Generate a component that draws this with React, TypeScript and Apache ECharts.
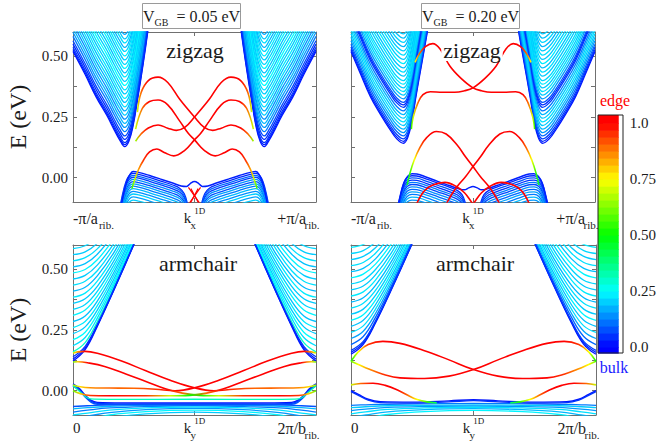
import React, { useEffect, useRef } from "react";
import * as echarts from "echarts";

const FONT = "Liberation Serif, Times New Roman, serif";
const FRAME = "#707070";
const INK = "#1b1b1b";

// ================= Top-left : zigzag, V_GB = 0.05 eV =================
const TL_COND_SHAPE = [[-1.0, 0.52], [-0.9, 0.425], [-0.81, 0.333], [-0.72, 0.255], [-0.66, 0.196], [-0.615, 0.155], [-0.575, 0.128], [-0.54, 0.15], [-0.505, 0.215], [-0.465, 0.333], [-0.425, 0.46], [-0.383, 0.607], [-0.36, 0.7]];
const TL_COND_LEVELS = [0.128, 0.136, 0.145, 0.158, 0.172, 0.19, 0.207, 0.224, 0.241, 0.258, 0.275, 0.292, 0.31, 0.327, 0.345, 0.362, 0.38, 0.397, 0.415, 0.432, 0.45, 0.467, 0.485, 0.502, 0.52, 0.537, 0.555, 0.572, 0.59];
const TL_COND_W = [0.02, 0.03, 0.05, 0.04, 0.07, 0.12, 0.15, 0.18, 0.14, 0.2, 0.17, 0.22, 0.19, 0.23, 0.2, 0.22, 0.25, 0.2, 0.23, 0.19, 0.24, 0.21, 0.2, 0.23, 0.21, 0.18, 0.22, 0.2, 0.17];
const TL_VAL_TOP = [[-0.62, -0.16], [-0.585, -0.07], [-0.555, -0.012], [-0.528, 0.016], [-0.505, 0.026], [-0.46, 0.022], [-0.37, 0.009], [-0.27, -0.007], [-0.18, -0.022], [-0.11, -0.034], [-0.065, -0.036], [-0.035, -0.024], [0, -0.016]];
const TL_VAL_SHAPE = [[-0.63, -0.17], [-0.595, -0.075], [-0.565, -0.018], [-0.535, 0.01], [-0.505, 0.018], [-0.46, 0.014], [-0.37, 0.001], [-0.27, -0.015], [-0.18, -0.03], [-0.12, -0.044], [-0.085, -0.065], [-0.062, -0.1], [-0.05, -0.14]];
const TL_VAL_SHIFTS = [0, -0.008, -0.016, -0.025, -0.034, -0.043, -0.053, -0.063, -0.074, -0.085, -0.097, -0.11];
const TL_VAL_W = [0.04, 0.1, 0.06, 0.14, 0.08, 0.16, 0.12, 0.18, 0.14, 0.2, 0.16, 0.2];
const TL_EDGE_A = [[-0.47, 0.27, 0.7], [-0.44, 0.35, 0.9], [-0.38, 0.4, 1], [-0.3, 0.414, 1], [-0.22, 0.392, 1], [-0.12, 0.322, 1], [0, 0.25, 1], [0.08, 0.207, 1], [0.15, 0.195, 1], [0.22, 0.204, 1], [0.3, 0.217, 1], [0.38, 0.205, 1], [0.44, 0.18, 0.9], [0.485, 0.15, 0.65]];
const TL_EDGE_B = [[-0.485, 0.2, 0.7], [-0.43, 0.285, 0.9], [-0.37, 0.314, 1], [-0.3, 0.32, 1], [-0.22, 0.3, 1], [-0.12, 0.232, 1], [-0.05, 0.182, 1], [0, 0.156, 1], [0.08, 0.113, 1], [0.17, 0.09, 1], [0.25, 0.104, 1], [0.31, 0.118, 1], [0.37, 0.106, 1], [0.42, 0.072, 0.95], [0.46, 0.035, 0.85], [0.49, -0.005, 0.7], [0.515, -0.045, 0.55]];
const TL_EDGE_X = [[[-0.05, -0.04, 1], [0.05, -0.11, 1]], [[-0.03, -0.045, 1], [0.035, -0.105, 1]]];

// ================= Top-right : zigzag, V_GB = 0.20 eV =================
const TR_COND_SHAPE = [[-1.0, 0.52], [-0.92, 0.425], [-0.84, 0.333], [-0.76, 0.262], [-0.68, 0.198], [-0.625, 0.16], [-0.57, 0.142], [-0.535, 0.165], [-0.5, 0.235], [-0.468, 0.333], [-0.42, 0.47], [-0.372, 0.607], [-0.35, 0.68]];
const TR_COND_LEVELS = [0.142, 0.15, 0.16, 0.172, 0.186, 0.2, 0.215, 0.23, 0.245, 0.26, 0.275, 0.29, 0.3, 0.31, 0.325, 0.34, 0.355, 0.37, 0.385, 0.4, 0.418, 0.435, 0.452, 0.47, 0.487, 0.505, 0.522, 0.54, 0.557, 0.575, 0.592];
const TR_COND_W = [0.02, 0.04, 0.06, 0.1, 0.15, 0.18, 0.2, 0.22, 0.2, 0.18, 0.12, 0.06, 0.04, 0.08, 0.15, 0.2, 0.22, 0.2, 0.23, 0.21, 0.2, 0.22, 0.19, 0.23, 0.2, 0.22, 0.2, 0.18, 0.21, 0.19, 0.2];
const TR_VAL_TOP = [[-0.63, -0.16], [-0.595, -0.075], [-0.565, -0.02], [-0.535, 0.006], [-0.5, 0.016], [-0.46, 0.015], [-0.38, 0.002], [-0.29, -0.015], [-0.2, -0.031], [-0.12, -0.045], [-0.07, -0.05], [-0.035, -0.042], [0, -0.036]];
const TR_VAL_SHAPE = [[-0.64, -0.17], [-0.6, -0.08], [-0.57, -0.025], [-0.54, 0.0], [-0.5, 0.008], [-0.46, 0.007], [-0.38, -0.006], [-0.29, -0.022], [-0.2, -0.038], [-0.13, -0.052], [-0.09, -0.07], [-0.065, -0.1], [-0.05, -0.14]];
const TR_VAL_SHIFTS = [0, -0.009, -0.018, -0.027, -0.036, -0.046, -0.056, -0.066, -0.077, -0.088, -0.1];
const TR_VAL_W = [0.04, 0.08, 0.05, 0.12, 0.07, 0.14, 0.1, 0.16, 0.12, 0.18, 0.15];
const TR_EDGE_U = [[-0.505, 0.2, 0.55], [-0.49, 0.25, 0.7], [-0.45, 0.31, 0.9], [-0.41, 0.342, 1], [-0.35, 0.354, 1], [-0.25, 0.352, 1], [-0.15, 0.352, 1], [-0.07, 0.358, 1], [0, 0.37, 1], [0.1, 0.41, 1], [0.19, 0.46, 1], [0.27, 0.53, 1], [0.33, 0.552, 1], [0.39, 0.54, 1], [0.44, 0.51, 0.9], [0.475, 0.475, 0.75]];
const TR_EDGE_L = [[-0.54, -0.03, 0.45], [-0.516, 0.02, 0.55], [-0.48, 0.075, 0.75], [-0.44, 0.12, 0.9], [-0.38, 0.165, 1], [-0.3, 0.19, 1], [-0.22, 0.18, 1], [-0.13, 0.135, 1], [-0.06, 0.085, 1], [0, 0.046, 1], [0.06, 0.005, 1], [0.12, -0.03, 1], [0.17, -0.065, 1], [0.21, -0.1, 1], [0.23, -0.12, 1]];
const TR_EDGE_R = [[-0.46, -0.105, 1], [-0.4, -0.055, 1], [-0.33, -0.03, 1], [-0.23, -0.019, 1], [-0.14, -0.035, 1], [-0.07, -0.062, 1], [-0.02, -0.095, 1], [0, -0.11, 1]];

// ================= Bottom-left : armchair, V_GB = 0.05 eV =================
const BL_CONE_K = [0, 0.05, 0.1, 0.17, 0.25, 0.32];
const BL_CONE_E = [
  [0.122, 0.169, 0.265, 0.418, 0.6, 0.762], [0.13, 0.175, 0.269, 0.42, 0.602, 0.763], [0.14, 0.183, 0.273, 0.423, 0.604, 0.765],
  [0.16, 0.198, 0.284, 0.43, 0.609, 0.768], [0.185, 0.219, 0.299, 0.44, 0.616, 0.774], [0.21, 0.241, 0.315, 0.451, 0.624, 0.781],
  [0.235, 0.263, 0.332, 0.463, 0.633, 0.789], [0.26, 0.285, 0.35, 0.477, 0.643], [0.285, 0.308, 0.369, 0.491, 0.653],
  [0.31, 0.332, 0.389, 0.506, 0.665], [0.335, 0.355, 0.409, 0.521, 0.677], [0.36, 0.379, 0.43, 0.538, 0.69],
  [0.385, 0.402, 0.451, 0.555, 0.703], [0.41, 0.426, 0.473, 0.572, 0.718], [0.435, 0.451, 0.494, 0.591, 0.732],
  [0.46, 0.475, 0.517, 0.609, 0.748], [0.485, 0.499, 0.539, 0.628], [0.51, 0.523, 0.562, 0.648],
  [0.535, 0.548, 0.584, 0.668], [0.56, 0.572, 0.607, 0.688], [0.585, 0.597, 0.63]];
const BL_CONE_W = [0.02, 0.03, 0.05, 0.3, 0.22, 0.25, 0.2, 0.23, 0.19, 0.24, 0.21, 0.2, 0.23, 0.18, 0.22, 0.2, 0.24, 0.19, 0.22, 0.2, 0.21];
const BL_VAL_FLAT = [[0, 0.028], [0.025, 0.01], [0.05, -0.018], [0.075, -0.04], [0.1, -0.048], [0.2, -0.05], [0.35, -0.05], [0.5, -0.05]];
const BL_VAL_FLAT_SHIFTS = [0, -0.004, -0.008];
const BL_VAL_CYAN = [[0, 0.02], [0.03, -0.005], [0.06, -0.03], [0.09, -0.035], [0.2, -0.036], [0.5, -0.035]];
const BL_FAN_K = [0, 0.06, 0.15, 0.3, 0.5];
const BL_FAN_E = [[-0.065, -0.062, -0.058, -0.056, -0.055], [-0.075, -0.07, -0.064, -0.06, -0.058], [-0.088, -0.08, -0.071, -0.065, -0.062], [-0.1, -0.092, -0.08, -0.071, -0.067], [-0.115, -0.105, -0.09, -0.078, -0.073], [-0.13, -0.12, -0.1, -0.086, -0.08], [-0.15, -0.135, -0.112, -0.095, -0.088]];
const BL_FAN_W = [0.08, 0.18, 0.12, 0.22, 0.15, 0.24, 0.2];
const BL_EDGE_P1 = [[0, 0.155, 0.7], [0.02, 0.16, 0.85], [0.05, 0.162, 1], [0.1, 0.154, 1], [0.2, 0.122, 1], [0.3, 0.082, 1], [0.4, 0.043, 1], [0.5, 0.012, 1], [0.58, 0.0, 1], [0.66, 0.006, 0.95], [0.75, 0.01, 0.9], [0.85, 0.011, 0.9], [0.93, 0.012, 0.86], [0.97, 0.016, 0.78], [1, 0.024, 0.65]];
const BL_EDGE_P2 = [[0, 0.118, 0.6], [0.02, 0.119, 0.8], [0.06, 0.115, 1], [0.13, 0.1, 1], [0.22, 0.068, 1], [0.3, 0.038, 1], [0.38, 0.008, 1], [0.45, -0.01, 0.9], [0.52, -0.019, 0.5], [0.6, -0.021, 0.7], [0.7, -0.021, 0.95], [0.85, -0.021, 1], [0.93, -0.02, 0.95], [0.97, -0.012, 0.8], [1, 0.0, 0.6]];

// ================= Bottom-right : armchair, V_GB = 0.20 eV =================
const BR_CONE_K = [0, 0.05, 0.1, 0.17, 0.25, 0.32];
const BR_CONE_E = [
  [0.15, 0.191, 0.279, 0.427, 0.606, 0.767], [0.158, 0.197, 0.283, 0.43, 0.608, 0.768], [0.166, 0.203, 0.288, 0.433, 0.611, 0.77],
  [0.19, 0.223, 0.302, 0.442, 0.617, 0.775], [0.215, 0.245, 0.318, 0.454, 0.626, 0.782], [0.24, 0.267, 0.336, 0.466, 0.635],
  [0.265, 0.29, 0.354, 0.479, 0.645], [0.29, 0.313, 0.373, 0.494, 0.656], [0.315, 0.336, 0.393, 0.509, 0.668],
  [0.34, 0.36, 0.413, 0.525, 0.68], [0.365, 0.383, 0.434, 0.541, 0.694], [0.39, 0.407, 0.455, 0.558, 0.708],
  [0.415, 0.431, 0.477, 0.576, 0.722], [0.44, 0.455, 0.499, 0.594, 0.737], [0.465, 0.48, 0.521, 0.613],
  [0.49, 0.504, 0.543, 0.632], [0.515, 0.528, 0.566, 0.652], [0.54, 0.553, 0.589, 0.672],
  [0.565, 0.577, 0.612], [0.59, 0.602, 0.635]];
const BR_CONE_W = [0.02, 0.04, 0.06, 0.1, 0.16, 0.22, 0.19, 0.24, 0.2, 0.22, 0.18, 0.23, 0.2, 0.21, 0.24, 0.19, 0.22, 0.2, 0.21, 0.23];
const BR_VAL_FLAT = [[0, 0.0], [0.03, -0.015], [0.07, -0.035], [0.12, -0.045], [0.25, -0.047], [0.4, -0.042], [0.5, -0.037]];
const BR_VAL_FLAT_SHIFTS = [0, -0.004];
const BR_FAN_K = [0, 0.06, 0.15, 0.3, 0.5];
const BR_FAN_E = [[-0.06, -0.058, -0.056, -0.054, -0.052], [-0.07, -0.066, -0.062, -0.06, -0.058], [-0.082, -0.076, -0.069, -0.065, -0.063], [-0.095, -0.087, -0.077, -0.071, -0.068], [-0.11, -0.1, -0.087, -0.078, -0.074], [-0.128, -0.115, -0.098, -0.086, -0.081]];
const BR_FAN_W = [0.12, 0.2, 0.15, 0.22, 0.18, 0.24];
const BR_EDGE_Q1 = [[0, 0.121, 0.5], [0.03, 0.16, 0.75], [0.07, 0.19, 0.95], [0.13, 0.203, 1], [0.2, 0.195, 1], [0.3, 0.165, 1], [0.4, 0.127, 1], [0.5, 0.087, 1], [0.6, 0.06, 1], [0.7, 0.05, 1], [0.8, 0.053, 1], [0.87, 0.068, 0.95], [0.93, 0.09, 0.85], [0.97, 0.108, 0.75], [1, 0.121, 0.6]];
const BR_EDGE_Q2 = [[0, 0.024, 0.7], [0.04, 0.03, 0.9], [0.09, 0.031, 1], [0.14, 0.022, 1], [0.19, 0.003, 1], [0.23, -0.018, 0.9], [0.27, -0.036, 0.75], [0.31, -0.046, 0.55], [0.35, -0.05, 0.4]];

// ================= colour bar =================
const CB_MIN = -0.027;
const CB_MAX = 1.036;
const CB_STEPS = 32;
const CB_TICKS = [0, 0.25, 0.5, 0.75, 1];
const CB_TICK_LABELS = ["0.0", "0.25", "0.50", "0.75", "1.0"];
const CMAP = [[0, 0, 0, 255], [0.25, 0, 255, 255], [0.5, 0, 255, 0], [0.75, 255, 255, 0], [1, 255, 0, 0]];

const Y_TICKS = [0, 0.125, 0.25, 0.375, 0.5];
const Y_LABELS = [0, 0.25, 0.5];

function cmap(w: number) {
  const v = Math.max(0, Math.min(1, w));
  for (let i = 1; i < CMAP.length; i++) {
    if (v <= CMAP[i][0]) {
      const a = CMAP[i - 1], b = CMAP[i];
      const t = (v - a[0]) / (b[0] - a[0]);
      const c = [1, 2, 3].map((j) => Math.round(a[j] + (b[j] - a[j]) * t));
      return `rgb(${c[0]},${c[1]},${c[2]})`;
    }
  }
  return "rgb(255,0,0)";
}

const mirrorTop = (pts: number[][]) => pts.map((p) => [-p[0], ...p.slice(1)]).reverse();
const mirrorBot = (pts: number[][]) => pts.map((p) => [1 - p[0], ...p.slice(1)]).reverse();
const shifted = (shape: number[][], d: number) => shape.map((p) => [p[0], p[1] + d]);
const minE = (shape: number[][]) => Math.min(...shape.map((p) => p[1]));

function gradient(pts: number[][]) {
  const ks = pts.map((p) => p[0]);
  const k0 = Math.min(...ks), k1 = Math.max(...ks);
  const stops = pts
    .map((p) => ({ offset: (p[0] - k0) / (k1 - k0), color: cmap(p[2]) }))
    .sort((a, b) => a.offset - b.offset);
  return { type: "linear", x: 0, y: 0, x2: 1, y2: 0, colorStops: stops, global: false };
}

function line(gi: number, pts: number[][], color: any, width = 1.3, z = 2) {
  return {
    type: "line", xAxisIndex: gi * 2, yAxisIndex: gi * 2,
    data: pts.map((p) => [p[0], p[1]]),
    symbol: "none", showSymbol: false, smooth: 0.4, clip: true, silent: true, animation: false, z,
    lineStyle: { width, color },
  };
}
function edge(gi: number, pts: number[][], width = 1.6) {
  return line(gi, pts, gradient(pts), width, 6);
}

const GRIDS = [
  { left: 73, top: 32, width: 243, height: 170 },
  { left: 351, top: 32, width: 244, height: 170 },
  { left: 73, top: 245, width: 243, height: 170 },
  { left: 351, top: 245, width: 245, height: 170 },
  { left: 598, top: 115, width: 25, height: 238 },
];

const RICH = {
  m: { fontSize: 16, fontFamily: FONT, color: INK, lineHeight: 24 },
  z: { fontSize: 15, fontFamily: FONT, color: INK, lineHeight: 24 },
  s: { fontSize: 11, fontFamily: FONT, color: INK, lineHeight: 8, verticalAlign: "bottom", align: "left", padding: [0, 0, 0, 1] },
  sr: { fontSize: 11, fontFamily: FONT, color: INK, lineHeight: 8, verticalAlign: "bottom", width: 8, align: "left", padding: [0, 0, 0, 2] },
  sx: { fontSize: 11, fontFamily: FONT, color: INK, lineHeight: 8, verticalAlign: "bottom", width: 2, padding: [0, 0, 0, 1], align: "left" },
  sp: { fontSize: 9, fontFamily: FONT, color: INK, lineHeight: 8, verticalAlign: "top", align: "left" },
};

function buildAxes(gi: number, top: boolean, yLabels: boolean) {
  const xmin = top ? -1 : 0, xmax = 1;
  const xLabelVals = top ? [-1, 0, 1] : [0, 0.5, 1];
  const xTick = top ? [0] : [0.5];
  const fmt = top
    ? (v: number) => (v < -0.5 ? "{m|-π/a}{s|rib.}" : v > 0.5 ? "{m|+π/a}{sr|rib.}" : "{z|k}{sx|x}{sp|1D}")
    : (v: number) => (v < 0.25 ? "{z|0}" : v > 0.75 ? "{m|2π/b}{sr|rib.}" : "{z|k}{sx|y}{sp|1D}");
  const axLine = { show: true, onZero: false, lineStyle: { color: FRAME, width: 1 } };
  const tick = { show: true, inside: true, length: 4, lineStyle: { color: FRAME } };
  const xBottom = {
    type: "value", gridIndex: gi, min: xmin, max: xmax, position: "bottom",
    axisLine: axLine, splitLine: { show: false },
    axisTick: { ...tick, customValues: xTick },
    axisLabel: {
      show: true, customValues: xLabelVals, formatter: fmt, rich: RICH, margin: top ? 4 : 1,
      alignMinLabel: "left", alignMaxLabel: "right", color: INK, fontFamily: FONT, fontSize: 15,
    },
  };
  const xTop = {
    type: "value", gridIndex: gi, min: xmin, max: xmax, position: "top",
    axisLine: axLine, splitLine: { show: false },
    axisTick: { ...tick, customValues: xTick }, axisLabel: { show: false },
  };
  const yLeft = {
    type: "value", gridIndex: gi, min: -0.1, max: 0.6, position: "left",
    axisLine: axLine, splitLine: { show: false },
    axisTick: { ...tick, customValues: Y_TICKS },
    axisLabel: {
      show: yLabels, customValues: Y_LABELS, formatter: (v: number) => v.toFixed(2),
      margin: 5, color: INK, fontFamily: FONT, fontSize: 15,
    },
  };
  const yRight = {
    type: "value", gridIndex: gi, min: -0.1, max: 0.6, position: "right",
    axisLine: axLine, splitLine: { show: false },
    axisTick: { ...tick, customValues: Y_TICKS }, axisLabel: { show: false },
  };
  return { x: [xBottom, xTop], y: [yLeft, yRight] };
}

function zigzagSeries(gi: number, cond: number[][], levels: number[], cw: number[], valTop: number[][], valShape: number[][], shifts: number[], vw: number[]) {
  const out: any[] = [];
  const base = minE(cond);
  levels.forEach((lv, i) => {
    const b = shifted(cond, lv - base);
    out.push(line(gi, b, cmap(cw[i])));
    out.push(line(gi, mirrorTop(b), cmap(cw[i])));
  });
  shifts.forEach((d, i) => {
    const b = shifted(valShape, d);
    out.push(line(gi, b, cmap(vw[i])));
    out.push(line(gi, mirrorTop(b), cmap(vw[i])));
  });
  const full = [...valTop, ...mirrorTop(valTop).slice(1)];
  out.push(line(gi, full, cmap(0.03), 1.5, 3));
  return out;
}

function armchairSeries(gi: number, coneK: number[], coneE: number[][], coneW: number[], flat: number[][], flatShifts: number[], fanK: number[], fanE: number[][], fanW: number[]) {
  const out: any[] = [];
  coneE.forEach((row, i) => {
    const b = row.map((e, j) => [coneK[j], e]);
    out.push(line(gi, b, cmap(coneW[i]), 1.3, i < 3 ? 3 : 2));
    out.push(line(gi, mirrorBot(b), cmap(coneW[i]), 1.3, i < 3 ? 3 : 2));
  });
  fanE.forEach((row, i) => {
    const half = row.map((e, j) => [fanK[j], e]);
    const full = [...half, ...mirrorBot(half).slice(1)];
    out.push(line(gi, full, cmap(fanW[i])));
  });
  flatShifts.forEach((d, i) => {
    const half = shifted(flat, d);
    const full = [...half, ...mirrorBot(half).slice(1)];
    out.push(line(gi, full, cmap(0.02 + i * 0.03), 1.4, 3));
  });
  return out;
}

function buildOption() {
  const xAxis: any[] = [], yAxis: any[] = [];
  [[true, true], [true, false], [false, true], [false, false]].forEach(([top, yl], gi) => {
    const a = buildAxes(gi, top as boolean, yl as boolean);
    xAxis.push(...a.x);
    yAxis.push(...a.y);
  });
  xAxis.push({ type: "value", gridIndex: 4, min: 0, max: 1, show: false });
  yAxis.push({
    type: "value", gridIndex: 4, min: CB_MIN, max: CB_MAX, position: "right",
    axisLine: { show: false }, splitLine: { show: false },
    axisTick: { show: true, inside: false, length: 5, customValues: CB_TICKS, lineStyle: { color: INK } },
    axisLabel: {
      show: true, customValues: CB_TICKS, margin: 11, color: INK, fontFamily: FONT, fontSize: 15,
      formatter: (v: number) => CB_TICK_LABELS[CB_TICKS.findIndex((t) => Math.abs(t - v) < 1e-6)] ?? "",
    },
  });

  const series: any[] = [];
  series.push(...zigzagSeries(0, TL_COND_SHAPE, TL_COND_LEVELS, TL_COND_W, TL_VAL_TOP, TL_VAL_SHAPE, TL_VAL_SHIFTS, TL_VAL_W));
  [TL_EDGE_A, TL_EDGE_B].forEach((c) => { series.push(edge(0, c)); series.push(edge(0, mirrorTop(c))); });
  TL_EDGE_X.forEach((c) => { series.push(line(0, c, cmap(1), 1.2, 6)); series.push(line(0, mirrorTop(c), cmap(1), 1.2, 6)); });
  series.push(...zigzagSeries(1, TR_COND_SHAPE, TR_COND_LEVELS, TR_COND_W, TR_VAL_TOP, TR_VAL_SHAPE, TR_VAL_SHIFTS, TR_VAL_W));
  [TR_EDGE_U, TR_EDGE_L, TR_EDGE_R].forEach((c) => { series.push(edge(1, c)); series.push(edge(1, mirrorTop(c))); });
  series.push(...armchairSeries(2, BL_CONE_K, BL_CONE_E, BL_CONE_W, BL_VAL_FLAT, BL_VAL_FLAT_SHIFTS, BL_FAN_K, BL_FAN_E, BL_FAN_W));
  {
    const full = [...BL_VAL_CYAN, ...mirrorBot(BL_VAL_CYAN).slice(1)];
    series.push(line(2, full, cmap(0.32), 1.3, 3));
  }
  [BL_EDGE_P1, BL_EDGE_P2].forEach((c) => { series.push(edge(2, c)); series.push(edge(2, mirrorBot(c))); });
  series.push(...armchairSeries(3, BR_CONE_K, BR_CONE_E, BR_CONE_W, BR_VAL_FLAT, BR_VAL_FLAT_SHIFTS, BR_FAN_K, BR_FAN_E, BR_FAN_W));
  [BR_EDGE_Q1, BR_EDGE_Q2].forEach((c) => { series.push(edge(3, c)); series.push(edge(3, mirrorBot(c))); });

  const seg: number[][] = [[CB_MIN, 0, 0]];
  for (let i = 0; i < CB_STEPS; i++) seg.push([i / CB_STEPS, (i + 1) / CB_STEPS, (i + 0.5) / CB_STEPS]);
  seg.push([1, CB_MAX, 1]);
  series.push({
    type: "custom", xAxisIndex: 8, yAxisIndex: 8, silent: true, animation: false, z: 10,
    data: seg,
    renderItem: (params: any, api: any) => {
      const lo = api.value(0), hi = api.value(1), w = api.value(2);
      const a = api.coord([0, hi]);
      const b = api.coord([1, lo]);
      return { type: "rect", shape: { x: a[0], y: a[1], width: b[0] - a[0], height: b[1] - a[1] + 0.6 }, style: { fill: cmap(w) } };
    },
  });

  const txt = (x: number, y: number, text: string, extra: any = {}) => ({
    type: "text", x, y, z: 100,
    style: { text, fontFamily: FONT, fontSize: 22, fill: INK, align: "center", verticalAlign: "middle", ...extra },
  });
  const vRich = {
    v: { fontSize: 16, fontFamily: FONT, fill: INK, color: INK, lineHeight: 22 },
    s: { fontSize: 10, fontFamily: FONT, fill: INK, color: INK, lineHeight: 8, verticalAlign: "bottom" },
  };
  const graphic = [
    { type: "rect", z: 100, shape: { x: 142.5, y: 3.5, width: 98, height: 25 }, style: { fill: "#fff", stroke: "#9a9a9a", lineWidth: 1 } },
    { type: "rect", z: 100, shape: { x: 421.5, y: 3.5, width: 98, height: 25 }, style: { fill: "#fff", stroke: "#9a9a9a", lineWidth: 1 } },
    txt(191.5, 16, "{v|V}{s|GB}{v|  = 0.05 eV}", { rich: vRich }),
    txt(470.5, 16, "{v|V}{s|GB}{v|  = 0.20 eV}", { rich: vRich }),
    txt(195, 50, "zigzag", { backgroundColor: "#fff", padding: [0, 2, 0, 2] }),
    txt(472, 50, "zigzag", { backgroundColor: "#fff", padding: [0, 2, 0, 2] }),
    txt(198, 263, "armchair"),
    txt(475, 263, "armchair"),
    { ...txt(18, 117, "E (eV)", { fontSize: 24 }), rotation: Math.PI / 2 },
    { ...txt(18, 330, "E (eV)", { fontSize: 24 }), rotation: Math.PI / 2 },
    txt(615, 100, "edge", { fontSize: 16, fill: "#ff0000" }),
    txt(614, 367, "bulk", { fontSize: 16, fill: "#2020ff" }),
    { type: "rect", z: 101, shape: { x: 598, y: 115, width: 25, height: 238 }, style: { fill: "none", stroke: "#222", lineWidth: 1 } },
  ];

  return {
    animation: false,
    backgroundColor: "#ffffff",
    textStyle: { fontFamily: FONT },
    grid: GRIDS.map((g) => ({ ...g, containLabel: false })),
    xAxis, yAxis, series, graphic,
  };
}

export default function App() {
  const ref = useRef<HTMLDivElement>(null);
  useEffect(() => {
    if (!ref.current) return;
    const chart = echarts.init(ref.current, undefined, { renderer: "svg" });
    chart.setOption(buildOption() as any);
    return () => chart.dispose();
  }, []);
  return <div ref={ref} style={{ position: "fixed", left: 0, top: 0, width: 659, height: 445, background: "#fff" }} />;
}
